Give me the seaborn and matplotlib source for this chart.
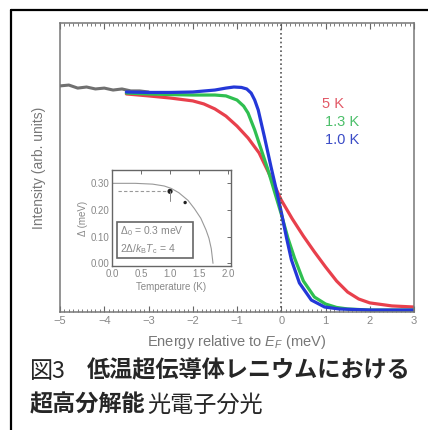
import matplotlib
matplotlib.use("Agg")
import matplotlib.pyplot as plt
import seaborn as sns
from matplotlib.lines import Line2D
from matplotlib.patches import Rectangle
from matplotlib.ticker import MultipleLocator

# --- data ---
E_data = [-5.0, -4.8, -4.6, -4.4, -4.2, -4.0, -3.8, -3.6, -3.4, -3.2, -3.0]
I_data = [1.028, 1.032, 1.018, 1.023, 1.014, 1.018, 1.009, 1.014, 1.005, 1.005, 1.0]

E_5K = [-3.5, -3, -2.5, -2, -1.75, -1.5, -1.25, -1, -0.75, -0.5, -0.25, 0,
        0.25, 0.5, 0.75, 1, 1.25, 1.5, 1.75, 2, 2.5, 3]
I_5K = [0.991, 0.982, 0.972, 0.959, 0.945, 0.922, 0.889, 0.843, 0.788, 0.719,
        0.613, 0.502, 0.415, 0.336, 0.263, 0.194, 0.129, 0.078, 0.046, 0.028,
        0.014, 0.009]

E_13K = [-3.5, -3, -2.5, -2, -1.5, -1.25, -1, -0.85, -0.75, -0.6, -0.45, -0.3,
         -0.15, 0, 0.15, 0.3, 0.5, 0.75, 1.0, 1.25, 1.5, 2, 3]
I_13K = [0.995, 0.991, 0.988, 0.986, 0.986, 0.982, 0.963, 0.935, 0.903, 0.825,
         0.733, 0.641, 0.539, 0.438, 0.327, 0.235, 0.129, 0.055, 0.023, 0.007,
         0.0, -0.005, -0.005]

E_10K = [-3.5, -3, -2.5, -2, -1.5, -1.25, -1.07, -0.9, -0.78, -0.68, -0.6, -0.52,
         -0.38, -0.23, -0.11, 0, 0.12, 0.23, 0.41, 0.68, 0.98, 1.3, 2, 3]
I_10K = [1.0, 0.998, 0.998, 1.0, 1.009, 1.018, 1.023, 1.021, 1.014, 0.995, 0.963,
         0.917, 0.793, 0.654, 0.548, 0.447, 0.327, 0.226, 0.120, 0.041, 0.009,
         0.0, -0.005, -0.005]

labels = ["5 K", "1.3 K", "1.0 K"]
colors = ["#e8404c", "#2fbf50", "#2438d8"]
label_colors = ["#e25866", "#4cbf6a", "#3a4bc6"]

# inset: gap vs temperature
T_bcs = [0, 0.4, 0.7, 0.9, 1.02, 1.15, 1.31, 1.42, 1.53, 1.62, 1.67, 1.71, 1.74]
D_bcs = [0.300, 0.300, 0.297, 0.290, 0.281, 0.265, 0.236, 0.205, 0.169, 0.125,
         0.094, 0.055, 0.0]
T_pts = [1.0, 1.26]
D_pts = [0.27, 0.228]

W, H = 428, 430


def px(x, y):
    return x / W, 1 - y / H


sns.set_theme(style="white")
plt.rcParams['font.family'] = ['Liberation Sans', 'DejaVu Sans']
plt.rcParams['mathtext.fontset'] = 'custom'
plt.rcParams['mathtext.rm'] = 'Liberation Sans'
plt.rcParams['mathtext.it'] = 'Liberation Sans:italic'

fig = plt.figure(figsize=(W / 100, H / 100), dpi=100)
fig.patch.set_facecolor("white")

# main panel
ax = fig.add_axes([60 / W, 1 - 312 / H, (414 - 60) / W, (312 - 23) / H])
sns.lineplot(x=E_data, y=I_data, ax=ax, color="#707070", lw=2.2)
curves = [(E_5K, I_5K), (E_13K, I_13K), (E_10K, I_10K)]
for (e, i), c in zip(curves, colors):
    sns.lineplot(x=e, y=i, ax=ax, color=c, lw=2.3)
ax.axvline(0, color="#555555", ls=(0, (1, 1.6)), lw=1.2)

ax.set_xlim(-5, 3)
ax.set_ylim(-0.014, 1.318)
ax.xaxis.set_major_locator(MultipleLocator(1))
ax.xaxis.set_minor_locator(MultipleLocator(0.1))
ax.set_yticks([])
ax.tick_params(axis="x", which="both", direction="in", top=True, bottom=True,
               colors="#666666", labelcolor="#888888", labelsize=8, pad=3)
ax.tick_params(axis="x", which="major", length=4, width=0.8)
ax.tick_params(axis="x", which="minor", length=2.5, width=0.6)
for s in ax.spines.values():
    s.set_color("#777777")
    s.set_linewidth(1.1)
ax.set_xlabel(r"Energy relative to $E_F$ (meV)", fontsize=10.5, color="#777777",
              labelpad=5)
ax.set_ylabel("Intensity (arb. units)", fontsize=10, color="#777777", labelpad=10)

for lab, c, (x, y) in zip(labels, label_colors, [(322, 104), (325, 122), (325, 140)]):
    fig.text(*px(x, y), lab, color=c, fontsize=10.5, va="center", ha="left")

# inset
ins = fig.add_axes([112 / W, 1 - 266 / H, (231 - 112) / W, (266 - 170) / H])
sns.lineplot(x=T_bcs, y=D_bcs, ax=ins, color="#999999", lw=0.8)
ins.plot([0.1, 0.93], [0.27, 0.27], color="#999999", lw=0.8, ls=(0, (3, 2)))
ins.plot([1.0, 1.0], [0.235, 0.27], color="#888888", lw=0.7)
sns.scatterplot(x=T_pts, y=D_pts, ax=ins, color="#222222", s=[14, 6],
                edgecolor="none", legend=False)
ins.set_xlim(0, 2.05)
ins.set_ylim(-0.01, 0.35)
ins.set_xticks([0.0, 0.5, 1.0, 1.5, 2.0])
ins.set_yticks([0.0, 0.1, 0.2, 0.3])
ins.set_yticklabels(["0.00", "0.10", "0.20", "0.30"])
ins.tick_params(which="both", direction="in", top=True, right=True, length=3,
                width=0.6, colors="#555555", labelcolor="#888888", labelsize=7,
                pad=2)
for s in ins.spines.values():
    s.set_color("#666666")
    s.set_linewidth(1.0)
ins.set_xlabel("Temperature (K)", fontsize=7, color="#888888", labelpad=2)
ins.set_ylabel("Δ (meV)", fontsize=7, color="#888888", labelpad=2)
box = Rectangle(px(117, 258), (193 - 117) / W, (258 - 222) / H,
                transform=fig.transFigure, fill=False, ec="#666666", lw=1.2)
fig.add_artist(box)
fig.text(*px(120, 231), r"$\Delta_0$ = 0.3 meV", fontsize=7.5, color="#888888",
         va="center")
fig.text(*px(120, 249), r"2Δ/$k_\mathrm{B}T_\mathrm{c}$ = 4", fontsize=7.5,
         color="#888888", va="center")

# outer frame (left and top edges)
fig.add_artist(Line2D([11 / W, 11 / W], [0, 1 - 10 / H], transform=fig.transFigure,
                      color="black", lw=1.6))
fig.add_artist(Line2D([11 / W, 1], [1 - 10 / H, 1 - 10 / H],
                      transform=fig.transFigure, color="black", lw=1.6))

# caption
cjk = ["Noto Sans CJK JP", "DejaVu Sans"]
fs = 16.7
fig.text(*px(30, 371), "図3", fontsize=fs, family=cjk, va="center")
fig.text(*px(87, 371), "低温超伝導体レニウムにおける", fontsize=fs, family=cjk,
         weight="bold", va="center")
fig.text(*px(30, 405), "超高分解能", fontsize=fs, family=cjk, weight="bold",
         va="center")
fig.text(*px(147, 405), "光電子分光", fontsize=fs, family=cjk, va="center")

fig.savefig("out.png", dpi=100, facecolor="white")
